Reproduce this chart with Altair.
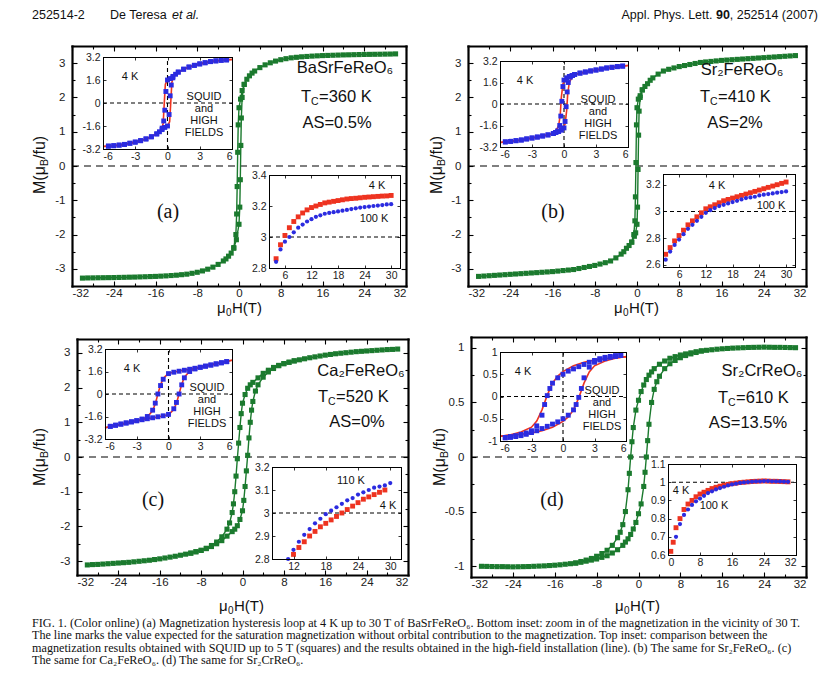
import altair as alt
import pandas as pd

# ======================= DATA =======================
# main loops (mu0H [T], M [muB/fu]) at 4 K
A_ASC = [(-30,-3.27),(-29,-3.265),(-28,-3.263),(-27,-3.26),(-26,-3.258),(-25,-3.256),(-24,-3.254),(-23,-3.25),(-22,-3.247),(-21,-3.243),(-20,-3.24),(-19,-3.235),(-18,-3.23),(-17,-3.225),(-16,-3.22),(-15,-3.213),(-14,-3.205),(-13,-3.195),(-12,-3.185),(-11,-3.17),(-10,-3.155),(-9,-3.13),(-8,-3.10),(-7,-3.06),(-6,-3.01),(-5,-2.95),(-4,-2.87),(-3,-2.77),(-2.5,-2.71),(-2,-2.63),(-1.5,-2.54),(-1,-2.4),(-0.5,-2.15),(0,-1.7),(0.15,-1.2),(0.25,-0.4),(0.35,0.6),(0.45,1.4),(0.6,2.0),(1,2.38),(1.5,2.53),(2,2.63),(2.5,2.71),(3,2.77),(4,2.87),(5,2.95),(6,3.01),(7,3.06),(8,3.10),(9,3.13),(10,3.155),(11,3.17),(12,3.185),(13,3.195),(14,3.205),(15,3.213),(16,3.22),(17,3.225),(18,3.23),(19,3.235),(20,3.24),(21,3.243),(22,3.247),(23,3.25),(24,3.254),(25,3.256),(26,3.258),(27,3.26),(28,3.263),(29,3.265),(30,3.27)]
A_DESC = [(1,2.38),(0.6,2.2),(0.3,1.95),(0,1.7),(-0.15,1.2),(-0.25,0.4),(-0.35,-0.6),(-0.45,-1.4),(-0.6,-2.0),(-1,-2.38)]

B_ASC = [(-30,-3.22),(-29,-3.21),(-28,-3.20),(-27,-3.19),(-26,-3.18),(-25,-3.17),(-24,-3.16),(-23,-3.15),(-22,-3.14),(-21,-3.13),(-20,-3.12),(-19,-3.11),(-18,-3.10),(-17,-3.09),(-16,-3.08),(-15,-3.065),(-14,-3.05),(-13,-3.035),(-12,-3.02),(-11,-2.99),(-10,-2.96),(-9,-2.93),(-8,-2.90),(-7,-2.86),(-6,-2.82),(-5,-2.77),(-4,-2.68),(-3,-2.57),(-2.5,-2.5),(-2,-2.4),(-1.5,-2.32),(-1,-2.22),(-0.5,-2.05),(-0.25,-1.95),(0,-1.7),(0.1,-1.2),(0.2,-0.1),(0.3,0.9),(0.4,1.6),(0.6,2.0),(1,2.22),(1.5,2.32),(2,2.4),(2.5,2.5),(3,2.57),(4,2.68),(5,2.77),(6,2.82),(7,2.86),(8,2.90),(9,2.93),(10,2.96),(11,2.99),(12,3.02),(13,3.035),(14,3.05),(15,3.065),(16,3.08),(17,3.09),(18,3.10),(19,3.11),(20,3.12),(21,3.13),(22,3.14),(23,3.15),(24,3.16),(25,3.17),(26,3.18),(27,3.19),(28,3.20),(29,3.21),(30,3.22)]
B_DESC = [(1,2.22),(0.6,2.05),(0.25,1.95),(0,1.7),(-0.1,1.2),(-0.2,0.1),(-0.3,-0.9),(-0.4,-1.6),(-0.6,-2.0),(-1,-2.22)]

C_ASC = [(-30,-3.11),(-29,-3.10),(-28,-3.095),(-27,-3.085),(-26,-3.075),(-25,-3.065),(-24,-3.055),(-23,-3.045),(-22,-3.035),(-21,-3.02),(-20,-3.005),(-19,-2.99),(-18,-2.975),(-17,-2.955),(-16,-2.935),(-15,-2.91),(-14,-2.885),(-13,-2.86),(-12,-2.83),(-11,-2.80),(-10,-2.77),(-9,-2.73),(-8,-2.69),(-7,-2.64),(-6,-2.58),(-5,-2.50),(-4,-2.41),(-3,-2.28),(-2,-2.15),(-1.5,-2.08),(-1,-1.98),(-0.5,-1.8),(0,-1.55),(0.25,-1.25),(0.5,-0.85),(0.75,-0.4),(1,0.05),(1.25,0.55),(1.5,1.0),(1.75,1.35),(2,1.6),(2.5,1.9),(3,2.08),(4,2.3),(5,2.45),(6,2.55),(7,2.63),(8,2.69),(9,2.73),(10,2.77),(11,2.80),(12,2.83),(13,2.86),(14,2.885),(15,2.91),(16,2.935),(17,2.955),(18,2.975),(19,2.99),(20,3.005),(21,3.02),(22,3.035),(23,3.045),(24,3.055),(25,3.065),(26,3.075),(27,3.085),(28,3.095),(29,3.10),(30,3.11)]
C_DESC = [(10,2.77),(9,2.73),(8,2.69),(7,2.64),(6,2.58),(5,2.50),(4,2.41),(3,2.28),(2,2.15),(1.5,2.08),(1,1.98),(0.5,1.8),(0,1.55),(-0.25,1.25),(-0.5,0.85),(-0.75,0.4),(-1,-0.05),(-1.25,-0.55),(-1.5,-1.0),(-1.75,-1.35),(-2,-1.6),(-2.5,-1.9),(-3,-2.08),(-4,-2.3),(-5,-2.45),(-6,-2.55),(-7,-2.63),(-8,-2.69),(-9,-2.73),(-10,-2.77)]

D_ASC = [(-30,-1.002),(-29,-1.003),(-28,-1.004),(-27,-1.005),(-26,-1.005),(-25,-1.006),(-24,-1.007),(-23,-1.006),(-22,-1.005),(-21,-1.004),(-20,-1.002),(-19,-1.0),(-18,-0.998),(-17,-0.995),(-16,-0.992),(-15,-0.988),(-14,-0.983),(-13,-0.978),(-12,-0.972),(-11,-0.965),(-10,-0.955),(-9,-0.945),(-8,-0.935),(-7,-0.92),(-6,-0.905),(-5,-0.88),(-4,-0.85),(-3,-0.81),(-2.5,-0.78),(-2,-0.75),(-1.5,-0.71),(-1,-0.66),(-0.5,-0.6),(0,-0.52),(0.5,-0.43),(1,-0.27),(1.25,-0.14),(1.5,0.0),(1.75,0.15),(2,0.3),(2.5,0.5),(3,0.62),(3.5,0.69),(4,0.74),(5,0.81),(6,0.855),(7,0.885),(8,0.91),(9,0.93),(10,0.945),(11,0.958),(12,0.972),(13,0.978),(14,0.983),(15,0.988),(16,0.992),(17,0.995),(18,0.998),(19,1.0),(20,1.002),(21,1.004),(22,1.005),(23,1.006),(24,1.007),(25,1.006),(26,1.005),(27,1.005),(28,1.004),(29,1.003),(30,1.002)]
D_DESC = [(12,0.972),(11,0.965),(10,0.955),(9,0.945),(8,0.935),(7,0.92),(6,0.905),(5,0.88),(4,0.85),(3,0.81),(2.5,0.78),(2,0.75),(1.5,0.71),(1,0.66),(0.5,0.6),(0,0.52),(-0.5,0.43),(-1,0.27),(-1.25,0.14),(-1.5,0.0),(-1.75,-0.15),(-2,-0.3),(-2.5,-0.5),(-3,-0.62),(-3.5,-0.69),(-4,-0.74),(-5,-0.81),(-6,-0.855),(-7,-0.885),(-8,-0.91),(-9,-0.93),(-10,-0.945),(-11,-0.958),(-12,-0.972)]

# top insets: SQUID (squares) and high-field (line)
A_SQ_DESC = [(5.5,3.0),(5,2.97),(4.5,2.93),(4,2.88),(3.5,2.8),(3,2.72),(2.5,2.62),(2,2.5),(1.5,2.35),(1,2.15),(0.5,1.85),(0.25,1.7),(0,1.6),(-0.15,0.8),(-0.25,-0.5),(-0.35,-1.25),(-0.5,-1.75),(-0.75,-2.0),(-1,-2.15),(-1.5,-2.35),(-2,-2.5),(-2.5,-2.62),(-3,-2.72),(-3.5,-2.8),(-4,-2.88),(-4.5,-2.93),(-5,-2.97),(-5.5,-3.0)]
A_SQ_ASC = [(-5.5,-3.0),(-5,-2.97),(-4.5,-2.93),(-4,-2.88),(-3.5,-2.8),(-3,-2.72),(-2.5,-2.62),(-2,-2.5),(-1.5,-2.35),(-1,-2.15),(-0.5,-1.85),(-0.25,-1.7),(0,-1.6),(0.15,-0.8),(0.25,0.5),(0.35,1.25),(0.5,1.75),(0.75,2.0),(1,2.15),(1.5,2.35),(2,2.5),(2.5,2.62),(3,2.72),(3.5,2.8),(4,2.88),(4.5,2.93),(5,2.97),(5.5,3.0)]
A_HF_ASC = [(-6,-3.03),(-5,-2.97),(-4,-2.88),(-3,-2.72),(-2,-2.5),(-1,-2.15),(-0.5,-1.85),(0,-1.6),(0.2,-1.3),(0.3,0.0),(0.4,1.4),(0.55,1.85),(1,2.15),(2,2.5),(3,2.72),(4,2.88),(5,2.97),(6,3.03)]
A_HF_DESC = [(6,3.03),(5,2.97),(4,2.88),(3,2.72),(2,2.5),(1,2.15),(0.5,1.85),(0,1.6),(-0.2,1.3),(-0.3,0.0),(-0.4,-1.4),(-0.55,-1.85),(-1,-2.15),(-2,-2.5),(-3,-2.72),(-4,-2.88),(-5,-2.97),(-6,-3.03)]

B_SQ_DESC = [(5.5,2.82),(5,2.78),(4.5,2.73),(4,2.68),(3.5,2.6),(3,2.53),(2.5,2.46),(2,2.38),(1.5,2.3),(1,2.2),(0.75,2.12),(0.5,2.05),(0.25,1.95),(0,1.78),(-0.1,1.3),(-0.2,0.2),(-0.3,-0.9),(-0.4,-1.6),(-0.6,-2.0),(-0.8,-2.12),(-1,-2.2),(-1.5,-2.3),(-2,-2.38),(-2.5,-2.46),(-3,-2.53),(-3.5,-2.6),(-4,-2.68),(-4.5,-2.73),(-5,-2.78),(-5.5,-2.82)]
B_SQ_ASC = [(-5.5,-2.82),(-5,-2.78),(-4.5,-2.73),(-4,-2.68),(-3.5,-2.6),(-3,-2.53),(-2.5,-2.46),(-2,-2.38),(-1.5,-2.3),(-1,-2.2),(-0.75,-2.12),(-0.5,-2.05),(-0.25,-1.95),(0,-1.78),(0.1,-1.3),(0.2,-0.2),(0.3,0.9),(0.4,1.6),(0.6,2.0),(0.8,2.12),(1,2.2),(1.5,2.3),(2,2.38),(2.5,2.46),(3,2.53),(3.5,2.6),(4,2.68),(4.5,2.73),(5,2.78),(5.5,2.82)]
B_HF_ASC = [(-6,-2.86),(-5,-2.78),(-4,-2.68),(-3,-2.53),(-2,-2.38),(-1,-2.2),(-0.5,-2.02),(-0.2,-1.85),(0.1,-1.5),(0.25,-0.5),(0.35,0.8),(0.5,1.6),(0.8,2.05),(1,2.2),(2,2.38),(3,2.53),(4,2.68),(5,2.78),(6,2.86)]
B_HF_DESC = [(6,2.86),(5,2.78),(4,2.68),(3,2.53),(2,2.38),(1,2.2),(0.5,2.02),(0.2,1.85),(-0.1,1.5),(-0.25,0.5),(-0.35,-0.8),(-0.5,-1.6),(-0.8,-2.05),(-1,-2.2),(-2,-2.38),(-3,-2.53),(-4,-2.68),(-5,-2.78),(-6,-2.86)]

C_SQ_DESC = [(5.5,2.3),(5,2.22),(4.5,2.14),(4,2.06),(3.5,1.98),(3,1.9),(2.5,1.83),(2,1.76),(1.5,1.69),(1,1.62),(0.5,1.55),(0,1.45),(-0.5,1.05),(-0.75,0.6),(-1,0.0),(-1.25,-0.65),(-1.5,-1.15),(-2,-1.6),(-2.5,-1.78),(-3,-1.9),(-3.5,-1.98),(-4,-2.06),(-4.5,-2.14),(-5,-2.22),(-5.5,-2.3)]
C_SQ_ASC = [(-5.5,-2.3),(-5,-2.22),(-4.5,-2.14),(-4,-2.06),(-3.5,-1.98),(-3,-1.9),(-2.5,-1.83),(-2,-1.76),(-1.5,-1.69),(-1,-1.62),(-0.5,-1.55),(0,-1.45),(0.5,-1.05),(0.75,-0.6),(1,0.0),(1.25,0.65),(1.5,1.15),(2,1.6),(2.5,1.78),(3,1.9),(3.5,1.98),(4,2.06),(4.5,2.14),(5,2.22),(5.5,2.3)]
C_HF_DESC = [(6,2.4),(5,2.24),(4,2.07),(3,1.91),(2,1.77),(1,1.63),(0,1.47),(-0.5,1.1),(-0.75,0.65),(-1,0.0),(-1.25,-0.7),(-1.5,-1.2),(-2,-1.62),(-2.5,-1.8),(-3,-1.91),(-4,-2.07),(-5,-2.24),(-6,-2.4)]
C_HF_ASC = [(-6,-2.4),(-5,-2.24),(-4,-2.07),(-3,-1.91),(-2,-1.77),(-1,-1.63),(0,-1.47),(0.5,-1.1),(0.75,-0.65),(1,0.0),(1.25,0.7),(1.5,1.2),(2,1.62),(2.5,1.8),(3,1.91),(4,2.07),(5,2.24),(6,2.4)]

D_SQ_DESC = [(5.5,0.93),(5,0.92),(4.5,0.9),(4,0.88),(3.5,0.85),(3,0.81),(2.5,0.77),(2,0.72),(1.5,0.67),(1,0.62),(0.5,0.57),(0,0.5),(-0.5,0.42),(-1,0.3),(-1.25,0.18),(-1.5,0.02),(-1.75,-0.18),(-2,-0.42),(-2.5,-0.66),(-3,-0.77),(-3.5,-0.82),(-4,-0.85),(-4.5,-0.88),(-5,-0.9),(-5.5,-0.92)]
D_SQ_ASC = [(-5.5,-0.93),(-5,-0.92),(-4.5,-0.9),(-4,-0.88),(-3.5,-0.85),(-3,-0.81),(-2.5,-0.77),(-2,-0.72),(-1.5,-0.67),(-1,-0.62),(-0.5,-0.57),(0,-0.5),(0.5,-0.42),(1,-0.3),(1.25,-0.18),(1.5,-0.02),(1.75,0.18),(2,0.42),(2.5,0.66),(3,0.77),(3.5,0.82),(4,0.85),(4.5,0.88),(5,0.9),(5.5,0.92)]
D_HF_DESC = [(6,0.89),(5,0.87),(4,0.85),(3,0.82),(2,0.77),(1,0.69),(0,0.56),(-0.5,0.46),(-1,0.3),(-1.5,0.03),(-2,-0.3),(-2.5,-0.55),(-3,-0.69),(-4,-0.8),(-5,-0.86),(-6,-0.9)]
D_HF_ASC = [(-6,-0.89),(-5,-0.87),(-4,-0.85),(-3,-0.82),(-2,-0.77),(-1,-0.69),(0,-0.56),(0.5,-0.46),(1,-0.3),(1.5,-0.03),(2,0.3),(2.5,0.55),(3,0.69),(4,0.8),(5,0.86),(6,0.9)]

# bottom insets: high-field magnetization near 30 T
A_LOW = [(4,2.86),(5,2.95),(6,3.01),(7,3.06),(8,3.10),(9,3.13),(10,3.155),(11,3.175),(12,3.19),(13,3.20),(14,3.21),(15,3.22),(16,3.225),(17,3.23),(18,3.235),(19,3.24),(20,3.245),(21,3.248),(22,3.25),(23,3.253),(24,3.256),(25,3.258),(26,3.26),(27,3.262),(28,3.264),(29,3.265),(30,3.268)]
A_HIGH = [(4,2.84),(5,2.92),(6,2.97),(7,3.00),(8,3.03),(9,3.06),(10,3.08),(11,3.10),(12,3.115),(13,3.13),(14,3.14),(15,3.15),(16,3.155),(17,3.16),(18,3.165),(19,3.17),(20,3.175),(21,3.18),(22,3.185),(23,3.19),(24,3.193),(25,3.196),(26,3.2),(27,3.203),(28,3.206),(29,3.21),(30,3.212)]
B_LOW = [(3,2.68),(4,2.73),(5,2.78),(6,2.82),(7,2.86),(8,2.90),(9,2.93),(10,2.96),(11,2.99),(12,3.02),(13,3.035),(14,3.05),(15,3.065),(16,3.08),(17,3.09),(18,3.10),(19,3.11),(20,3.12),(21,3.13),(22,3.14),(23,3.15),(24,3.16),(25,3.17),(26,3.18),(27,3.19),(28,3.20),(29,3.21),(30,3.22)]
B_HIGH = [(3,2.64),(4,2.70),(5,2.75),(6,2.79),(7,2.83),(8,2.87),(9,2.90),(10,2.93),(11,2.96),(12,2.99),(13,3.01),(14,3.025),(15,3.04),(16,3.05),(17,3.06),(18,3.07),(19,3.08),(20,3.09),(21,3.10),(22,3.105),(23,3.11),(24,3.12),(25,3.125),(26,3.13),(27,3.135),(28,3.14),(29,3.145),(30,3.15)]
C_LOW = [(12,2.82),(13,2.85),(14,2.875),(15,2.90),(16,2.92),(17,2.94),(18,2.955),(19,2.97),(20,2.985),(21,3.0),(22,3.015),(23,3.03),(24,3.045),(25,3.06),(26,3.07),(27,3.08),(28,3.09),(29,3.10)]
C_HIGH = [(11,2.80),(12,2.84),(13,2.875),(14,2.905),(15,2.93),(16,2.955),(17,2.975),(18,2.995),(19,3.01),(20,3.025),(21,3.04),(22,3.055),(23,3.065),(24,3.08),(25,3.09),(26,3.10),(27,3.11),(28,3.115),(29,3.12),(30,3.13)]
D_LOW = [(0.7,0.62),(1.3,0.67),(2,0.75),(3,0.80),(4,0.85),(5,0.88),(6,0.90),(7,0.92),(8,0.935),(9,0.945),(10,0.955),(11,0.965),(12,0.972),(13,0.978),(14,0.983),(15,0.988),(16,0.992),(17,0.995),(18,0.998),(19,1.0),(20,1.002),(21,1.004),(22,1.005),(23,1.006),(24,1.007),(25,1.006),(26,1.005),(27,1.005),(28,1.004),(29,1.003),(30,1.002)]
D_HIGH = [(2,0.70),(3,0.77),(4,0.82),(5,0.85),(6,0.875),(7,0.895),(8,0.91),(9,0.925),(10,0.94),(11,0.95),(12,0.96),(13,0.968),(14,0.975),(15,0.982),(16,0.988),(17,0.992),(18,0.996),(19,0.999),(20,1.001),(21,1.003),(22,1.004),(23,1.005),(24,1.006),(25,1.006),(26,1.005),(27,1.004),(28,1.004),(29,1.003),(30,1.002)]

COMPOUNDS = ["BaSrFeReO\u2086", "Sr\u2082FeReO\u2086", "Ca\u2082FeReO\u2086", "Sr\u2082CrReO\u2086"]
TC_TEXT = ["=360 K", "=410 K", "=520 K", "=610 K"]
AS_TEXT = ["AS=0.5%", "AS=2%", "AS=0%", "AS=13.5%"]
PANEL_TAGS = ["(a)", "(b)", "(c)", "(d)"]
TEMPS_BOTTOM = [("4 K", "100 K"), ("4 K", "100 K"), ("4 K", "110 K"), ("4 K", "100 K")]
CAPTION = [
    "FIG. 1. (Color online) (a) Magnetization hysteresis loop at 4 K up to 30 T of BaSrFeReO\u2086. Bottom inset: zoom in of the magnetization in the vicinity of 30 T.",
    "The line marks the value expected for the saturation magnetization without orbital contribution to the magnetization. Top inset: comparison between the",
    "magnetization results obtained with SQUID up to 5 T (squares) and the results obtained in the high-field installation (line). (b) The same for Sr\u2082FeReO\u2086. (c)",
    "The same for Ca\u2082FeReO\u2086. (d) The same for Sr\u2082CrReO\u2086.",
]

MAIN_XT = [-32, -24, -16, -8, 0, 8, 16, 24, 32]
MAIN_XMINOR = [-28, -20, -12, -4, 4, 12, 20, 28]
MAIN_YT = [-3, -2, -1, 0, 1, 2, 3]
MAIN_YMINOR = [-3.5, -2.5, -1.5, -0.5, 0.5, 1.5, 2.5, 3.5]
MAIN_YT_D = [-1, -0.5, 0, 0.5, 1]
MAIN_YMINOR_D = [-0.75, -0.25, 0.25, 0.75]
TOP_XT = [-6, -3, 0, 3, 6]
TOP_YT = [-3.2, -1.6, 0, 1.6, 3.2]
TOP_YT_D = [-1, -0.5, 0, 0.5, 1]
BOT_XT_AB = [6, 12, 18, 24, 30]
BOT_XT_C = [12, 18, 24, 30]
BOT_XT_D = [0, 8, 16, 24, 32]
BOT_YT = [[2.8, 3, 3.2, 3.4], [2.6, 2.8, 3, 3.2], [2.8, 2.9, 3, 3.1, 3.2], [0.6, 0.7, 0.8, 0.9, 1, 1.1]]

# ======================= LAYOUT / STYLE =======================
W, H = 815, 668
M0 = 8
GREEN = '#1b7a2e'
BLUE = '#2b2be0'
RED = '#ee3320'
SANS = 'Liberation Sans'
SERIF = 'Liberation Serif'
LAB = "'' + datum.value"


def df_of(pairs):
    d = pd.DataFrame(pairs, columns=['h', 'm'])
    d['i'] = range(len(d))
    return d


def subplot(box, xdom, ydom, xt, yt, fw, tlen, twid, lsize, padx, pady, fill, marks, xminor=None, yminor=None):
    L, T, R, B = [v - M0 for v in box]
    xs = alt.Scale(domain=xdom, range=[L, R], nice=False, zero=False)
    ys = alt.Scale(domain=ydom, range=[B, T], nice=False, zero=False)
    fr = pd.DataFrame({'x0': [xdom[0]], 'x1': [xdom[1]], 'y0': [ydom[0]], 'y1': [ydom[1]]})
    com = dict(grid=False, title=None, zindex=3)
    lab = dict(labelExpr=LAB, labelFont=SANS, labelFontSize=lsize, labelColor='#222')
    dom = dict(domain=True, domainColor='black', domainWidth=fw, domainCap='square')
    tk = dict(ticks=True, tickSize=tlen, tickColor='black', tickWidth=twid)
    ax_xb = alt.Axis(orient='bottom', offset=B - H, values=xt, ticks=False, tickSize=0, labelPadding=padx, **lab, **dom, **com)
    ax_yl = alt.Axis(orient='left', offset=-L, values=yt, ticks=False, tickSize=0, labelPadding=pady, **lab, **dom, **com)
    ax_xbi = alt.Axis(orient='top', offset=-B, values=xt, labels=False, domain=False, **tk, **com)
    ax_yli = alt.Axis(orient='right', offset=L - W, values=yt, labels=False, domain=False, **tk, **com)
    ax_xt = alt.Axis(orient='bottom', offset=T - H, values=xt, labels=False, **dom, **tk, **com)
    ax_yr = alt.Axis(orient='left', offset=-R, values=yt, labels=False, **dom, **tk, **com)

    bg = alt.Chart(fr).mark_rect(fill=fill).encode(
        x=alt.X('x0:Q', scale=xs, axis=ax_xb), x2='x1:Q',
        y=alt.Y('y0:Q', scale=ys, axis=ax_yl), y2='y1:Q')
    g2 = alt.Chart(fr).mark_point(opacity=0).encode(
        x=alt.X('x0:Q', scale=xs, axis=ax_xbi), y=alt.Y('y0:Q', scale=ys, axis=ax_yli))
    g3 = alt.Chart(fr).mark_point(opacity=0).encode(
        x=alt.X('x1:Q', scale=xs, axis=ax_xt), y=alt.Y('y1:Q', scale=ys, axis=ax_yr))
    extra = []
    if xminor is not None:
        mk = dict(ticks=True, tickSize=tlen * 0.6, tickColor='black', tickWidth=twid, labels=False, domain=False)
        a1x = alt.Axis(orient='top', offset=-B, values=xminor, **mk, **com)
        a1y = alt.Axis(orient='right', offset=L - W, values=yminor, **mk, **com)
        a2x = alt.Axis(orient='bottom', offset=T - H, values=xminor, **mk, **com)
        a2y = alt.Axis(orient='left', offset=-R, values=yminor, **mk, **com)
        extra.append(alt.Chart(fr).mark_point(opacity=0).encode(
            x=alt.X('x0:Q', scale=xs, axis=a1x), y=alt.Y('y0:Q', scale=ys, axis=a1y)))
        extra.append(alt.Chart(fr).mark_point(opacity=0).encode(
            x=alt.X('x1:Q', scale=xs, axis=a2x), y=alt.Y('y1:Q', scale=ys, axis=a2y)))

    layers = [bg]
    for kind, data, opts in marks:
        ex = alt.X('h:Q', scale=xs, axis=None)
        ey = alt.Y('m:Q', scale=ys, axis=None)
        if kind == 'line':
            layers.append(alt.Chart(df_of(data)).mark_line(**opts).encode(x=ex, y=ey, order='i:Q'))
        elif kind == 'sq':
            layers.append(alt.Chart(df_of(data)).mark_point(shape='square', filled=True, opacity=1, **opts).encode(x=ex, y=ey))
        elif kind == 'dot':
            layers.append(alt.Chart(df_of(data)).mark_circle(opacity=1, **opts).encode(x=ex, y=ey))
        elif kind == 'hrule':
            x0, x1, yv = data
            d = pd.DataFrame({'h': [x0], 'h2': [x1], 'm': [yv]})
            layers.append(alt.Chart(d).mark_rule(**opts).encode(x=ex, x2='h2:Q', y=ey))
        elif kind == 'vrule':
            xv, y0, y1 = data
            d = pd.DataFrame({'h': [xv], 'm': [y0], 'm2': [y1]})
            layers.append(alt.Chart(d).mark_rule(**opts).encode(x=ex, y=ey, y2='m2:Q'))
    layers += [g2, g3] + extra
    return alt.layer(*layers).resolve_axis(x='independent', y='independent')


MAIN_BOX = [(72, 46, 406, 286), (468, 46, 806, 286), (77, 339, 408, 575), (471, 337, 806, 577)]
MAIN_YDOM = [(-3.5, 3.5), (-3.5, 3.5), (-3.4, 3.4), (-1.1, 1.1)]
TOP_BOX = [(103, 57, 232, 149), (500, 61, 628, 147), (105, 349, 232, 439), (500, 352, 626, 441)]
BOT_BOX = [(269, 175, 400, 268), (663, 174, 795, 267), (272, 467, 401, 559), (668, 464, 796, 555)]
BOT_XDOM = [(2.4, 32), (2.4, 32), (8, 32), (0, 32)]
BOT_YDOM = [(2.8, 3.4), (2.585, 3.28), (2.8, 3.2), (0.6, 1.1)]
BOT_XT = [BOT_XT_AB, BOT_XT_AB, BOT_XT_C, BOT_XT_D]
BOT_SAT = [3, 3, 3, 1]

MAINS = [(A_ASC, A_DESC), (B_ASC, B_DESC), (C_ASC, C_DESC), (D_ASC, D_DESC)]
TOPS = [(A_HF_ASC, A_HF_DESC, A_SQ_ASC, A_SQ_DESC), (B_HF_ASC, B_HF_DESC, B_SQ_ASC, B_SQ_DESC),
        (C_HF_ASC, C_HF_DESC, C_SQ_ASC, C_SQ_DESC), (D_HF_ASC, D_HF_DESC, D_SQ_ASC, D_SQ_DESC)]
BOTS = [(A_LOW, A_HIGH), (B_LOW, B_HIGH), (C_LOW, C_HIGH), (D_LOW, D_HIGH)]

dash_main = dict(color='black', strokeDash=[7, 5], strokeWidth=1.2)
dash_in = dict(color='black', strokeDash=[4, 3], strokeWidth=1.1)

layers = []
for k in range(4):
    asc, desc = MAINS[k]
    marks = [
        ('hrule', (-32, 32, 0), dash_main),
        ('line', asc, dict(color=GREEN, strokeWidth=1.4)),
        ('line', desc, dict(color=GREEN, strokeWidth=1.4)),
        ('sq', asc, dict(color=GREEN, size=26)),
        ('sq', desc, dict(color=GREEN, size=26)),
    ]
    layers.append(subplot(MAIN_BOX[k], (-32, 32), MAIN_YDOM[k], MAIN_XT,
                          MAIN_YT_D if k == 3 else MAIN_YT, 2.2, 5, 1.1, 11.5, 1, 7, 'transparent', marks,
                          xminor=MAIN_XMINOR, yminor=(MAIN_YMINOR_D if k == 3 else MAIN_YMINOR)))

for k in range(4):
    hfa, hfd, sqa, sqd = TOPS[k]
    ylim = 1 if k == 3 else 3.2
    marks = [
        ('hrule', (-6, 6, 0), dash_in),
        ('vrule', (0, -ylim, ylim), dash_in),
        ('line', hfa, dict(color=RED, strokeWidth=1.6)),
        ('line', hfd, dict(color=RED, strokeWidth=1.6)),
        ('sq', sqa, dict(color=BLUE, size=24)),
        ('sq', sqd, dict(color=BLUE, size=24)),
    ]
    layers.append(subplot(TOP_BOX[k], (-6, 6), (-ylim, ylim), TOP_XT,
                          TOP_YT_D if k == 3 else TOP_YT, 1, 3, 0.8, 10.5, 2, 3, 'white', marks))

for k in range(4):
    low, high = BOTS[k]
    xd = BOT_XDOM[k]
    marks = [
        ('hrule', ((1 if k == 3 else xd[0]), (31.5 if k == 3 else xd[1]), BOT_SAT[k]), dash_in),
        ('sq', low, dict(color=RED, size=24)),
        ('dot', high, dict(color=BLUE, size=18)),
    ]
    layers.append(subplot(BOT_BOX[k], xd, BOT_YDOM[k], BOT_XT[k], BOT_YT[k],
                          1, 3, 0.8, 10.5, 2, 3, 'white', marks))


# ----------------------- texts -----------------------
def texts(items, font=SANS, align='left', style='normal', weight='normal', color='black'):
    d = pd.DataFrame([{'x': x - M0, 'y': y - M0, 't': t, 's': s, 'a': a} for (x, y, t, s, a) in items])
    return alt.Chart(d).mark_text(font=font, align=align, baseline='middle', fontStyle=style,
                                  fontWeight=weight, color=color).encode(
        x=alt.X('x:Q', scale=None, axis=None), y=alt.Y('y:Q', scale=None, axis=None),
        text='t:N', size=alt.Size('s:Q', scale=None, legend=None),
        angle=alt.Angle('a:Q', scale=None, legend=None))


sans_left, sans_center, sans_right = [], [], []
# header
HS = 12.5
sans_left += [(32, 15, "252514-2", HS, 0), (110, 15, "De Teresa", HS, 0)]
hdr_italic = [(172, 15, "et al.", HS, 0)]
sans_right += [(818, 15, ", 252514 (2007)", HS, 0), (712.5, 15, "Appl. Phys. Lett.", HS, 0)]
hdr_bold = [(730, 15, "90", HS, 0)]

# axis titles
YT_C = [(40, 165), (437, 165), (40, 457), (440, 457)]
XT_C = [(240, 308), (637, 308), (242, 606), (638, 606)]
for (cx, cy) in YT_C:
    y0 = cy + 29
    sans_left += [(cx, y0, "M(\u03bc", 16, 270), (cx + 5, y0 - 28, "B", 10.5, 270), (cx, y0 - 35, "/fu)", 16, 270)]
for (cx, cy) in XT_C:
    x0 = cx - 23
    sans_left += [(x0, cy, "\u03bc", 15, 0), (x0 + 9, cy + 5, "0", 10, 0), (x0 + 15, cy, "H(T)", 15, 0)]

# compound annotations
COMP_C = [(345, 68), (742, 70), (361, 371), (762, 371)]
TC_X = [(301, 97), (700, 97), (318, 397), (718, 398)]
AS_C = [(337, 123), (735, 123), (357, 422), (748, 423)]
for k in range(4):
    sans_center.append((COMP_C[k][0], COMP_C[k][1], COMPOUNDS[k], 16.5, 0))
    tx, ty = TC_X[k]
    sans_left += [(tx, ty, "T", 16.5, 0), (tx + 10, ty + 5, "C", 10.5, 0), (tx + 18, ty, TC_TEXT[k], 16.5, 0)]
    sans_center.append((AS_C[k][0], AS_C[k][1], AS_TEXT[k], 16.5, 0))

# inset labels
TOP_4K = [(130, 77), (525, 81), (132, 369), (523, 372)]
SQ_C = [(204, 97), (598, 100), (207, 388), (602, 391)]
for k in range(4):
    sans_center.append((TOP_4K[k][0], TOP_4K[k][1], "4 K", 11, 0))
    sx, sy = SQ_C[k]
    for j, w in enumerate(["SQUID", "and", "HIGH", "FIELDS"]):
        sans_center.append((sx, sy + 12 * j, w, 11, 0))
BOT_LAB = [((377, 186), (374, 219)), ((717, 186), (771, 206)), ((388, 506), (351, 481)), ((681, 491), (714, 506))]
for k in range(4):
    (p1, p2) = BOT_LAB[k]
    sans_center.append((p1[0], p1[1], TEMPS_BOTTOM[k][0], 11, 0))
    sans_center.append((p2[0], p2[1], TEMPS_BOTTOM[k][1], 11, 0))

TAG_C = [(168, 212), (553, 212), (153, 500), (552, 500)]
serif_center = [(TAG_C[k][0], TAG_C[k][1], PANEL_TAGS[k], 20, 0) for k in range(4)]

CAP_Y = [623, 635.4, 647.8, 660.2]
CAP_S = [12.2, 12.1, 12.2, 12.2]
serif_left = [(32, CAP_Y[j], CAPTION[j], CAP_S[j], 0) for j in range(4)]

layers += [
    texts(sans_left, align='left', color='#111'),
    texts(sans_center, align='center', color='#111'),
    texts(sans_right, align='right', color='#111'),
    texts(hdr_italic, align='left', style='italic', color='#111'),
    texts(hdr_bold, align='right', weight='bold', color='#111'),
    texts(serif_center, font=SERIF, align='center', color='#111'),
    texts(serif_left, font=SERIF, align='left', color='#111'),
]

chart = alt.layer(*layers).resolve_scale(x='independent', y='independent').properties(
    width=W, height=H, padding=0, autosize=alt.AutoSizeParams(type='none'),
    background='white'
).configure_view(stroke='transparent')

chart.save("out.html", embed_options={"renderer": "svg", "actions": False})
